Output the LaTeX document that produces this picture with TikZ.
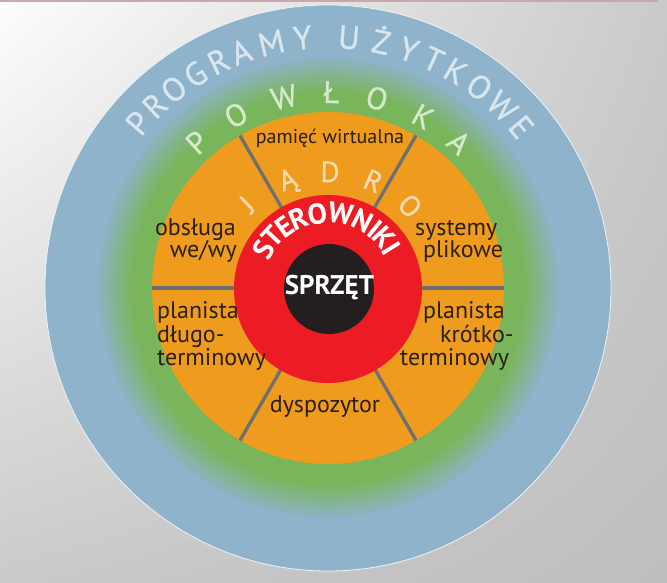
\documentclass[tikz,border=0pt]{standalone}
\usepackage{fontspec}
\setmainfont{PT Sans}
\usetikzlibrary{shadings}

% palette
\definecolor{bgA}{HTML}{FDFDFD}
\definecolor{bgB}{HTML}{CACACA}
\definecolor{bgC}{HTML}{BEBEBE}
\definecolor{topline}{HTML}{C8A9AA}
\definecolor{ringblue}{HTML}{8EB3CB}
\definecolor{ringgreen}{HTML}{79B55A}
\definecolor{kernel}{HTML}{EF9B1D}
\definecolor{drivers}{HTML}{ED1C24}
\definecolor{hardware}{HTML}{231F20}
\definecolor{divider}{HTML}{6E6F71}
\definecolor{labeltext}{HTML}{2A1F10}
\definecolor{progtext}{HTML}{D8E6EE}
\definecolor{shelltext}{HTML}{D6EACB}
\definecolor{kerneltext}{HTML}{F6DCB0}

\begin{document}
\begin{tikzpicture}[x=1pt,y=1pt,
  lbl/.style={font=\fontsize{24}{26}\selectfont, text=labeltext, inner sep=0pt},
  progletter/.style={font=\fontsize{33}{35}\selectfont\addfontfeature{FakeBold=0.8}, text=progtext, inner sep=0pt, anchor=base},
  shellletter/.style={font=\fontsize{31}{33}\selectfont\addfontfeature{FakeBold=0.8}, text=shelltext, inner sep=0pt, anchor=base},
  kernelletter/.style={font=\fontsize{29}{31}\selectfont\addfontfeature{FakeBold=0.8}, text=kerneltext, inner sep=0pt, anchor=base},
  drvletter/.style={font=\fontsize{29}{31}\selectfont\bfseries, text=white, inner sep=0pt, anchor=base},
  sector/.style={draw=divider, line width=3.3pt},
]
% page frame and background
\useasboundingbox (-328,-294) rectangle (339,288);
\shade[upper left=bgA, upper right=bgB, lower left=bgB, lower right=bgC]
  (-328,-294) rectangle (339,288);
\fill[topline] (-328,286) rectangle (330,288);

% outer layer: application programs
\fill[ringblue, draw=white!85!ringblue, line width=0.8pt] (0,0) circle (283);

% soft transition from blue to the green shell
\foreach \i in {0,...,40} {
  \pgfmathsetmacro\rr{232-\i*0.9}
  \pgfmathsetmacro\pp{\i*2.5}
  \fill[ringgreen!\pp!ringblue] (0,0) circle (\rr);
}

% kernel, drivers, hardware
\fill[kernel] (0,0) circle (176);
\foreach \a in {0,60,...,300}
  \draw[sector] (\a:93) -- (\a:176);
\fill[drivers] (0,-1) circle (94);
\fill[hardware] (1,-1) circle (45);

% ring captions
\foreach \ch/\ang [count=\k] in {P/139, R/133.5, O/127.8, G/121.8, R/115.8,
    A/110.2, M/103, Y/95.8, U/85.2, Ż/77.8, Y/71.3, T/65.2, K/59.5,
    O/53, W/46.2, E/39.8}
  \node[progletter, rotate=\ang-90] (pg\k) at (\ang:240) {\ch};

\foreach \ch/\ang [count=\k] in {P/132, O/118, W/103, Ł/89, O/75.5, K/61, A/48}
  \node[shellletter, rotate=\ang-90] (pw\k) at (\ang:185) {\ch};

\foreach \ch/\ang [count=\k] in {J/134, Ą/110.5, D/89, R/67, O/45}
  \node[kernelletter, rotate=\ang-90] (jd\k) at (\ang:106) {\ch};

\foreach \ch/\ang [count=\k] in {S/149, T/137.23, E/125.46, R/112.87, O/98.25,
    W/80.39, N/62.73, I/51.67, K/41.82, I/31.97}
  \node[drvletter, rotate=\ang-90] (st\k) at (\ang:65) {\ch};

\node[font=\fontsize{27}{29}\selectfont\bfseries, text=white, inner sep=0pt, anchor=base]
  (hw) at (1.5,-6) {SPRZĘT};

% kernel components
\node[lbl, font=\fontsize{20}{22}\selectfont, anchor=base] (pam) at (2,145) {pamięć wirtualna};
\node[lbl, anchor=base east] (obs1) at (-92,53) {obsługa};
\node[lbl, anchor=base east] (obs2) at (-91,31) {we/wy};
\node[lbl, anchor=base west] (sys1) at (87,53) {systemy};
\node[lbl, anchor=base west] (sys2) at (95,31) {plikowe};
\node[lbl, anchor=base west] (pld1) at (-171,-30) {planista};
\node[lbl, anchor=base west] (pld2) at (-171,-54) {długo-};
\node[lbl, anchor=base west] (pld3) at (-171,-77) {terminowy};
\node[lbl, anchor=base west] (plk1) at (95,-30) {planista};
\node[lbl, anchor=base west] (plk2) at (112,-54) {krótko-};
\node[lbl, anchor=base west] (plk3) at (72,-77) {terminowy};
\node[lbl, anchor=base] (dsp) at (-3,-124) {dyspozytor};
\end{tikzpicture}
\end{document}
